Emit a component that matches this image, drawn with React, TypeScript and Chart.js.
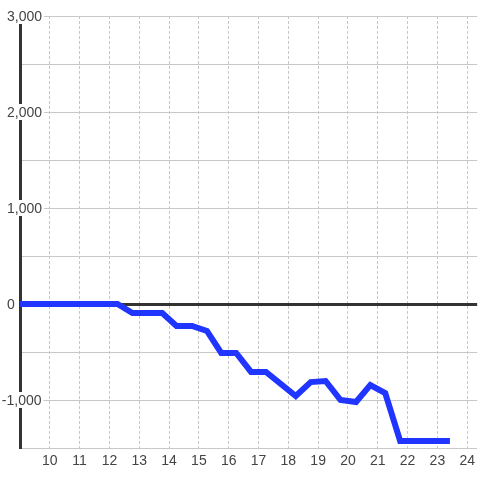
import React, { useEffect, useRef } from "react";
import { Chart, registerables } from "chart.js";

Chart.register(...registerables);

const xValues = [9, 12.27, 12.77, 13.77, 14.25, 14.77, 15.27, 15.75, 16.25, 16.75, 17.25, 18.25, 18.75, 19.25, 19.75, 20.27, 20.75, 21.25, 21.75, 23.42];
const yValues = [0, 0, -94, -94, -229, -229, -281, -510, -510, -708, -708, -958, -813, -802, -1000, -1021, -844, -927, -1427, -1427];
const xTickValues = [10, 11, 12, 13, 14, 15, 16, 17, 18, 19, 20, 21, 22, 23, 24];
const yLabelValues = [3000, 2000, 1000, 0, -1000];

const FONT = '"Liberation Sans", Arial, sans-serif';
const TEXT_COLOR = "#444";

const yLabelPlugin = {
  id: "yLabels",
  afterDraw(chart: any) {
    const ctx = chart.ctx;
    const ys = chart.scales.y;
    ctx.save();
    ctx.font = `14px ${FONT}`;
    ctx.textAlign = "left";
    ctx.textBaseline = "middle";
    const left = 7;
    for (const v of yLabelValues) {
      const y = ys.getPixelForValue(v);
      const label = v.toLocaleString("en-US");
      const w = ctx.measureText(label).width;
      const x = v < 0 ? left - ctx.measureText("-").width - 0.5 : left;
      ctx.fillStyle = "#ffffff";
      ctx.fillRect(x - 2, y - 8, w + 4, 16);
      ctx.fillStyle = TEXT_COLOR;
      ctx.fillText(label, x, y + 1);
    }
    ctx.restore();
  },
};

export default function App() {
  const canvasRef = useRef<HTMLCanvasElement | null>(null);

  useEffect(() => {
    document.body.style.margin = "0";
    const canvas = canvasRef.current;
    if (!canvas) return;
    const chart = new Chart(canvas, {
      type: "line",
      data: {
        datasets: [
          {
            data: xValues.map((x, i) => ({ x, y: yValues[i] })),
            borderColor: "#2035ff",
            borderWidth: 6,
            pointRadius: 0,
            tension: 0,
            fill: false,
            borderCapStyle: "butt",
            borderJoinStyle: "miter",
          },
        ],
      },
      options: {
        animation: false,
        responsive: false,
        devicePixelRatio: 1,
        layout: { padding: { left: 20, top: 16, right: 0, bottom: 0 } },
        plugins: { legend: { display: false }, tooltip: { enabled: false } },
        scales: {
          x: {
            type: "linear",
            min: 9,
            max: 9 + 460 / 30,
            afterBuildTicks: (s: any) => {
              s.ticks = xTickValues.map((v) => ({ value: v }));
            },
            afterFit: (s: any) => {
              s.height = 32;
            },
            ticks: {
              color: TEXT_COLOR,
              font: { family: FONT, size: 14 },
              padding: 5,
              maxRotation: 0,
              autoSkip: false,
              callback: (v: any) => String(v),
            },
            grid: {
              color: "#c8c8c8",
              lineWidth: 1,
              drawTicks: false,
            },
            border: { display: false, dash: [3, 2] },
          },
          y: {
            type: "linear",
            min: -1500,
            max: 3000,
            ticks: { display: false, stepSize: 500 },
            afterFit: (s: any) => {
              s.width = 0;
            },
            grid: {
              drawTicks: false,
              color: (c: any) => (c.tick && c.tick.value === 0 ? "#333333" : "#c8c8c8"),
              lineWidth: (c: any) => (c.tick && c.tick.value === 0 ? 3 : 1),
            },
            border: { display: true, color: "#333333", width: 3 },
          },
        },
      },
      plugins: [yLabelPlugin],
    } as any);
    return () => chart.destroy();
  }, []);

  return (
    <div style={{ width: 480, height: 480 }}>
      <canvas ref={canvasRef} width={480} height={480} />
    </div>
  );
}
